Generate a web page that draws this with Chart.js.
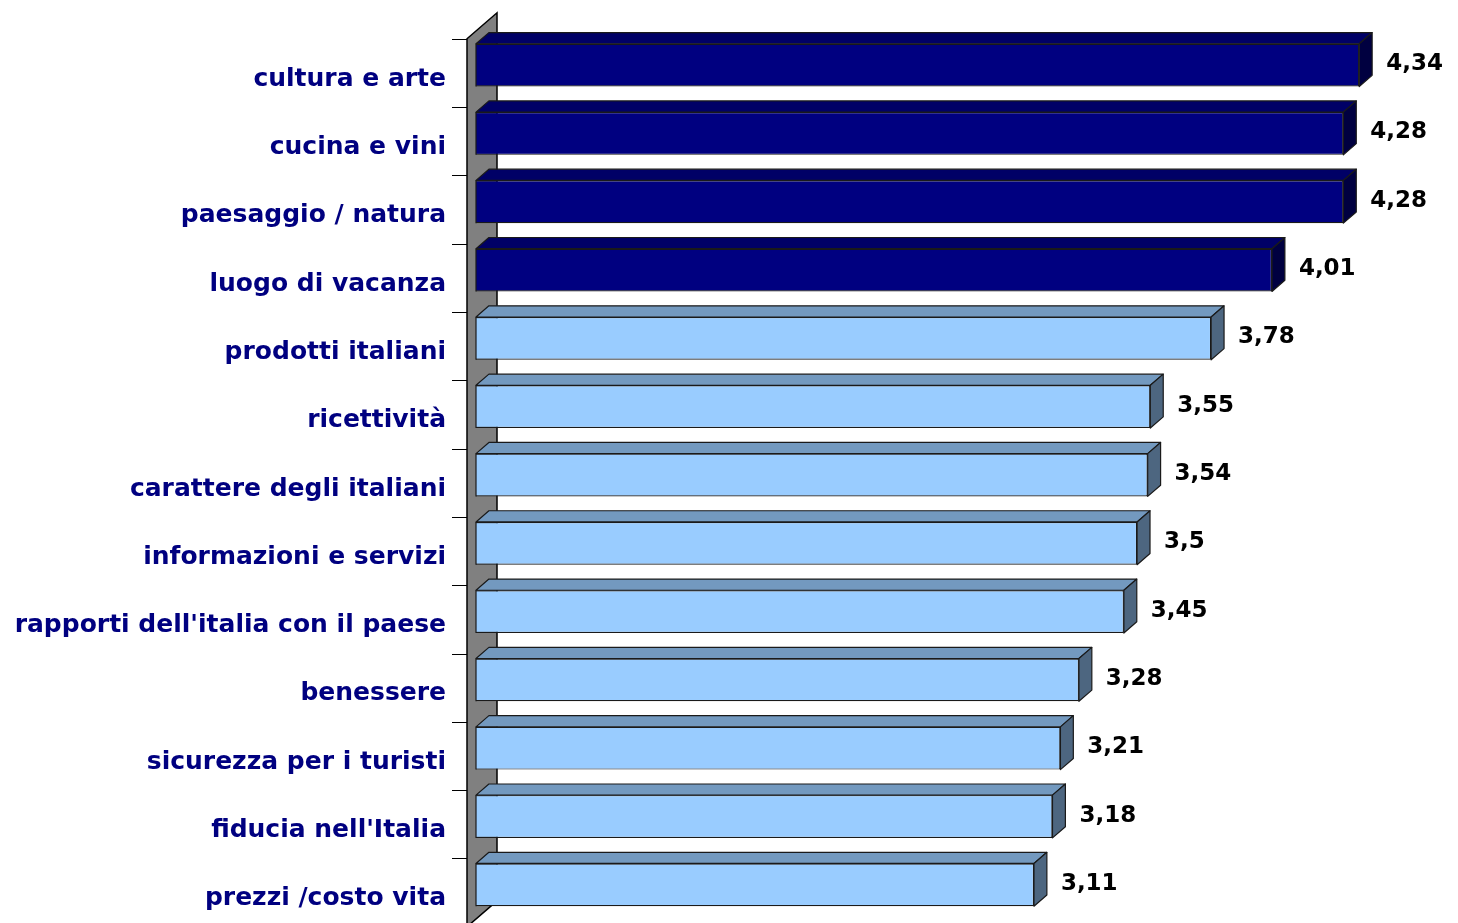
<!DOCTYPE html>
<html>
<head>
<meta charset="utf-8">
<script src="https://cdn.jsdelivr.net/npm/chart.js@4.4.1/dist/chart.umd.min.js"></script>
<style>
  html, body { margin: 0; padding: 0; background: #fff; overflow: hidden; }
  #contenitore { width: 1458px; height: 923px; position: relative; }
</style>
</head>
<body>
<div id="contenitore"><canvas id="graficoBarre"></canvas></div>
<script>
const categorie = [
    "cultura e arte", "cucina e vini", "paesaggio / natura", "luogo di vacanza",
    "prodotti italiani", "ricettività", "carattere degli italiani",
    "informazioni e servizi", "rapporti dell'italia con il paese", "benessere",
    "sicurezza per i turisti", "fiducia nell'Italia", "prezzi /costo vita"
];
const valori = [4.34, 4.28, 4.28, 4.01, 3.78, 3.55, 3.54, 3.5, 3.45, 3.28, 3.21, 3.18, 3.11];
const etichetteValori = valori.map(v => String(v).replace('.', ','));

const N_SCURE = 4; // prime barre in blu scuro

// profondità 3D
const PROF_X = 30, PROF_Y = -26;   // parete intera
const FRONTE = 0.3, RETRO = 0.73;  // posizione delle barre nella profondità

const effetto3d = {
    id: 'effetto3d',
    beforeDatasetsDraw(chart) {
        const ctx = chart.ctx, a = chart.chartArea, y = chart.scales.y;
        const sx = FRONTE * PROF_X, sy = FRONTE * PROF_Y;
        const x0 = a.left - sx, t0 = a.top - sy, b0 = a.bottom - sy;
        ctx.save();
        // parete sinistra
        ctx.beginPath();
        ctx.moveTo(x0, t0);
        ctx.lineTo(x0 + PROF_X, t0 + PROF_Y);
        ctx.lineTo(x0 + PROF_X, b0 + PROF_Y);
        ctx.lineTo(x0, b0);
        ctx.closePath();
        ctx.fillStyle = '#808080';
        ctx.fill();
        ctx.strokeStyle = '#000';
        ctx.lineWidth = 1.5;
        ctx.stroke();
        // tacche dell'asse
        ctx.lineWidth = 1;
        for (let k = 0; k <= categorie.length; k++) {
            const py = Math.round(y.getPixelForValue(k - 0.5) - sy) + 0.5;
            ctx.beginPath();
            ctx.moveTo(x0 - 15, py);
            ctx.lineTo(x0, py);
            ctx.stroke();
        }
        ctx.restore();
    },
    afterDatasetsDraw(chart) {
        const ctx = chart.ctx;
        const meta = chart.getDatasetMeta(0);
        const dx = (RETRO - FRONTE) * PROF_X, dy = (RETRO - FRONTE) * PROF_Y;
        ctx.save();
        ctx.strokeStyle = '#1a1a1a';
        ctx.lineWidth = 1.2;
        ctx.lineJoin = 'round';
        meta.data.forEach((el, i) => {
            const scura = i < N_SCURE;
            const x1 = Math.max(el.base, chart.chartArea.left);
            const yt = el.y - el.height / 2, yb = el.y + el.height / 2;
            // faccia superiore
            ctx.beginPath();
            ctx.moveTo(x1, yt);
            ctx.lineTo(x1 + dx, yt + dy);
            ctx.lineTo(el.x + dx, yt + dy);
            ctx.lineTo(el.x, yt);
            ctx.closePath();
            ctx.fillStyle = scura ? '#000066' : '#7399bf';
            ctx.fill();
            ctx.stroke();
            // faccia laterale
            ctx.beginPath();
            ctx.moveTo(el.x, yt);
            ctx.lineTo(el.x + dx, yt + dy);
            ctx.lineTo(el.x + dx, yb + dy);
            ctx.lineTo(el.x, yb);
            ctx.closePath();
            ctx.fillStyle = scura ? '#000040' : '#4d6680';
            ctx.fill();
            ctx.stroke();
            // bordo sinistro della faccia frontale
            ctx.beginPath();
            ctx.moveTo(x1, yt);
            ctx.lineTo(x1, yb);
            ctx.stroke();
            // etichetta valore
            ctx.fillStyle = '#000';
            ctx.font = 'bold 23px "DejaVu Sans", Verdana, sans-serif';
            ctx.textAlign = 'left';
            ctx.textBaseline = 'alphabetic';
            ctx.fillText(etichetteValori[i], el.x + dx + 14, el.y + 5);
        });
        ctx.restore();
    }
};

const ctx = document.getElementById("graficoBarre").getContext("2d");

new Chart(ctx, {
    type: 'bar',
    data: {
        labels: categorie,
        datasets: [{
            data: valori,
            backgroundColor: valori.map((v, i) => i < N_SCURE ? '#000080' : '#99ccff'),
            borderColor: '#1a1a1a',
            borderWidth: 1.2,
            borderSkipped: false,
            categoryPercentage: 1,
            barPercentage: 0.626
        }]
    },
    options: {
        indexAxis: 'y',
        responsive: true,
        maintainAspectRatio: false,
        animation: false,
        layout: {
            padding: { top: 31, bottom: 4, left: 0, right: 30 }
        },
        scales: {
            x: {
                display: false,
                min: 1,
                max: 4.6
            },
            y: {
                grid: { display: false, drawTicks: false },
                border: { display: false },
                ticks: {
                    color: '#000080',
                    padding: 30,
                    labelOffset: 14,
                    font: { family: '"DejaVu Sans", Verdana, sans-serif', size: 25, weight: 'bold' }
                },
                afterFit(scala) {
                    scala.width = 476;
                    scala.paddingTop = 0;
                    scala.paddingBottom = 0;
                }
            }
        },
        plugins: {
            legend: { display: false },
            tooltip: { enabled: false }
        }
    },
    plugins: [effetto3d]
});
</script>
</body>
</html>
